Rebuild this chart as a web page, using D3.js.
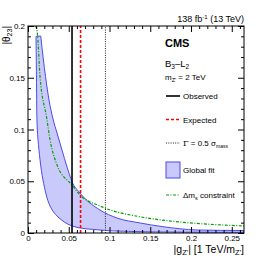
<!DOCTYPE html>
<html>
<head>
<meta charset="utf-8">
<script src="https://cdn.jsdelivr.net/npm/d3@7"></script>
<style>
  body { margin: 0; background: #fff; }
  svg { display: block; font-family: "Liberation Sans", Arial, sans-serif; }
  .tick text { font-size: 8px; fill: #000; }
</style>
</head>
<body>
<div id="chart"></div>
<script>
// limits
var obsLimit = 0.054;
var expLimit = 0.0645;
var widthLimit = 0.095;

// global fit band, upper/right edge
var bandUpG = [0.0156, 0.0215, 0.0258, 0.0307, 0.0356, 0.0417, 0.0479, 0.054, 0.0638, 0.0883, 0.1092, 0.1374, 0.1656, 0.2074, 0.265];
var bandUpT = [0.1903, 0.1510, 0.1285, 0.1101, 0.0966, 0.0802, 0.0638, 0.0496, 0.0386, 0.0222, 0.0145, 0.0097, 0.0061, 0.0029, 0.0024];
// global fit band, lower/left edge
var bandLoG = [0.0098, 0.0104, 0.0110, 0.0123, 0.0184, 0.027, 0.0368, 0.054, 0.0883, 0.1374, 0.265];
var bandLoT = [0.1899, 0.1507, 0.1092, 0.0899, 0.0512, 0.0261, 0.0155, 0.0068, 0.0029, 0.0013, 0.0007];

// delta m_s constraint
var dmsG = [0.0095, 0.0118, 0.0147, 0.0229, 0.0270, 0.036, 0.054, 0.064, 0.0883, 0.1374, 0.265];
var dmsT = [0.2, 0.1903, 0.1517, 0.1113, 0.0903, 0.065, 0.0464, 0.0367, 0.0261, 0.0157, 0.0068];

var xMajor = [0, 0.05, 0.1, 0.15, 0.2, 0.25];
var yMajor = [0, 0.05, 0.1, 0.15, 0.2];

var W = 271, H = 260;
var padL = 28, padR = 244, padT = 26, padB = 233;

var svg = d3.select("#chart").append("svg").attr("width", W).attr("height", H);

var x = d3.scaleLinear().domain([0, 0.265]).range([padL, padR]);
var y = d3.scaleLinear().domain([0, 0.2]).range([padB, padT]);

svg.append("clipPath").attr("id", "clip")
  .append("rect").attr("x", padL).attr("y", padT)
  .attr("width", padR - padL).attr("height", padB - padT);

var plot = svg.append("g").attr("clip-path", "url(#clip)");

function pts(gs, ts) {
  return gs.map(function(g, i) { return [g, ts[i]]; });
}

var line = d3.line()
  .x(function(d) { return x(d[0]); })
  .y(function(d) { return y(d[1]); })
  .curve(d3.curveMonotoneX);

var up = pts(bandUpG, bandUpT);
var lo = pts(bandLoG, bandLoT);
// lower edge drawn right to left so the band closes as one polygon
var loRev = d3.line()
  .x(function(d) { return x(d[0]); })
  .y(function(d) { return y(d[1]); })
  .curve(d3.curveCatmullRom)(lo.slice().reverse());
var bandPath = line(up) + loRev.replace(/^M/, "L") + "Z";

plot.append("path").attr("d", bandPath)
  .attr("fill", "#c9c9fb").attr("stroke", "#4b4bf0").attr("stroke-width", 1);

plot.append("path").attr("d", line(pts(dmsG, dmsT)))
  .attr("fill", "none").attr("stroke", "#00a000").attr("stroke-width", 1.2)
  .attr("stroke-dasharray", "3,1.5,1,1.5");

function vline(v, col, w, dash) {
  plot.append("line")
    .attr("x1", x(v)).attr("x2", x(v)).attr("y1", y(0)).attr("y2", y(0.2))
    .attr("stroke", col).attr("stroke-width", w)
    .attr("stroke-dasharray", dash);
}
vline(obsLimit, "#000", 1.6, null);
vline(expLimit, "#ff0000", 1.6, "3,2");
vline(widthLimit, "#222", 1, "1,1.3");

// axes, ticks inside the frame
var xMinor = d3.range(0, 0.2651, 0.01).filter(function(v) { return Math.abs(v / 0.05 - Math.round(v / 0.05)) > 1e-6; });
var yMinor = d3.range(0, 0.2001, 0.01).filter(function(v) { return Math.abs(v / 0.05 - Math.round(v / 0.05)) > 1e-6; });

function fmt(v) { return v === 0 ? "0" : d3.format("~g")(v); }

function axisG(axis, tx, ty) {
  var g = svg.append("g").attr("transform", "translate(" + tx + "," + ty + ")").call(axis);
  g.select(".domain").remove();
  g.selectAll(".tick line").attr("stroke", "#000");
  return g;
}

axisG(d3.axisBottom(x).tickValues(xMajor).tickSize(-6).tickPadding(2).tickFormat(fmt), 0, padB);
axisG(d3.axisBottom(x).tickValues(xMinor).tickSize(-3).tickFormat(""), 0, padB);
axisG(d3.axisTop(x).tickValues(xMajor).tickSize(-6).tickFormat(""), 0, padT);
axisG(d3.axisTop(x).tickValues(xMinor).tickSize(-3).tickFormat(""), 0, padT);
axisG(d3.axisLeft(y).tickValues(yMajor).tickSize(-6).tickPadding(3).tickFormat(fmt), padL, 0);
axisG(d3.axisLeft(y).tickValues(yMinor).tickSize(-3).tickFormat(""), padL, 0);
axisG(d3.axisRight(y).tickValues(yMajor).tickSize(-6).tickFormat(""), padR, 0);
axisG(d3.axisRight(y).tickValues(yMinor).tickSize(-3).tickFormat(""), padR, 0);

svg.append("rect").attr("x", padL).attr("y", padT)
  .attr("width", padR - padL).attr("height", padB - padT)
  .attr("fill", "none").attr("stroke", "#000").attr("stroke-width", 1);

// axis titles
var xt = svg.append("text").attr("x", padR).attr("y", 253)
  .attr("text-anchor", "end").attr("font-size", 10.5);
xt.append("tspan").text("|g");
xt.append("tspan").attr("font-size", 7.5).attr("dy", 2).text("Z'");
xt.append("tspan").attr("dy", -2).text("| [1 TeV/m");
xt.append("tspan").attr("font-size", 7.5).attr("dy", 2).text("Z'");
xt.append("tspan").attr("dy", -2).text("]");

var yt = svg.append("text").attr("transform", "translate(10," + padT + ") rotate(-90)")
  .attr("text-anchor", "end").attr("font-size", 10);
yt.append("tspan").text("|θ");
yt.append("tspan").attr("font-size", 7).attr("dy", 2).text("23");
yt.append("tspan").attr("dy", -2).text("|");

// header
var lum = svg.append("text").attr("x", padR).attr("y", 22)
  .attr("text-anchor", "end").attr("font-size", 9);
lum.append("tspan").text("138 fb");
lum.append("tspan").attr("font-size", 6).attr("dy", -3).text("-1");
lum.append("tspan").attr("dy", 3).text(" (13 TeV)");

svg.append("text").attr("x", 165).attr("y", 47)
  .attr("font-size", 11).attr("font-weight", "bold").text("CMS");

var model = svg.append("text").attr("x", 165).attr("y", 67).attr("font-size", 9.5);
model.append("tspan").text("B");
model.append("tspan").attr("font-size", 6.5).attr("dy", 2).text("3");
model.append("tspan").attr("dy", -2).text("\u2013L");
model.append("tspan").attr("font-size", 6.5).attr("dy", 2).text("2");

var mass = svg.append("text").attr("x", 165).attr("y", 80).attr("font-size", 8);
mass.append("tspan").text("m");
mass.append("tspan").attr("font-size", 5.5).attr("dy", 1.5).text("Z'");
mass.append("tspan").attr("dy", -1.5).text(" = 2 TeV");

// legend
var lx0 = 166, lx1 = 180, tx = 183;
function legLine(yy, col, w, dash) {
  svg.append("line").attr("x1", lx0).attr("x2", lx1).attr("y1", yy).attr("y2", yy)
    .attr("stroke", col).attr("stroke-width", w).attr("stroke-dasharray", dash);
}
function legText(yy) {
  return svg.append("text").attr("x", tx).attr("y", yy + 3).attr("font-size", 8);
}
legLine(96, "#000", 1.6, null);
legText(96).text("Observed");
legLine(119.5, "#ff0000", 1.6, "3,2");
legText(119.5).text("Expected");
legLine(143, "#222", 1, "1,1.3");
var gl = legText(143);
gl.append("tspan").attr("font-family", "DejaVu Serif, serif").text("Γ");
gl.append("tspan").text(" = 0.5 σ");
gl.append("tspan").attr("font-size", 5).attr("dy", 1.5).text("mass");
svg.append("rect").attr("x", lx0).attr("y", 162).attr("width", lx1 - lx0).attr("height", 16)
  .attr("fill", "#c9c9fb").attr("stroke", "#4b4bf0").attr("stroke-width", 1);
legText(170).text("Global fit");
legLine(195, "#00a000", 1.2, "3,1.5,1,1.5");
var dl = legText(195);
dl.append("tspan").text("Δm");
dl.append("tspan").attr("font-size", 5.5).attr("dy", 1.5).text("s");
dl.append("tspan").attr("dy", -1.5).text(" constraint");
</script>
</body>
</html>
